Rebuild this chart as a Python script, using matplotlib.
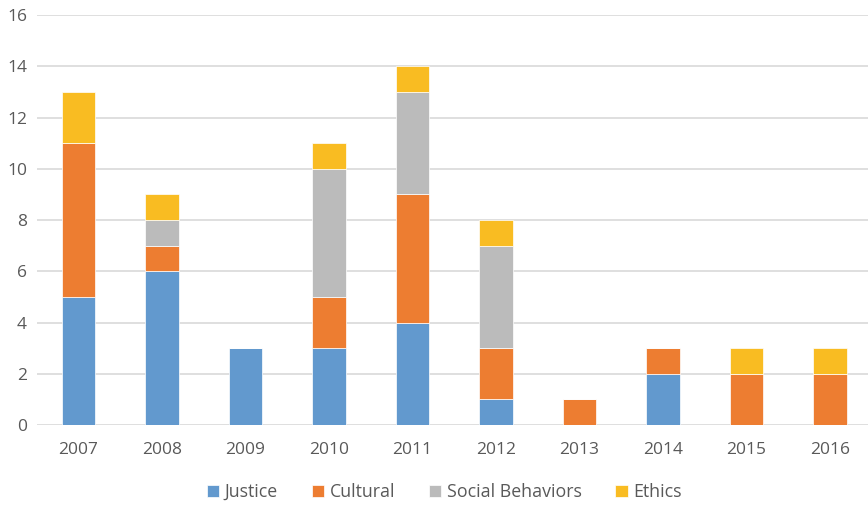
import matplotlib.pyplot as plt
import numpy as np

years = ['2007', '2008', '2009', '2010', '2011', '2012', '2013', '2014', '2015', '2016']
justice = [5, 6, 3, 3, 4, 1, 0, 2, 0, 0]
cultural = [6, 1, 0, 2, 5, 2, 1, 1, 2, 2]
social = [0, 1, 0, 5, 4, 4, 0, 0, 0, 0]
ethics = [2, 1, 0, 1, 1, 1, 0, 0, 1, 1]

series = [('Justice', justice, '#6299CE'),
          ('Cultural', cultural, '#ED7D31'),
          ('Social Behaviors', social, '#BBBBBB'),
          ('Ethics', ethics, '#F9BC22')]

plt.rcParams['font.family'] = ['Open Sans', 'DejaVu Sans']

fig = plt.figure(figsize=(8.68, 5.05), dpi=100)
ax = fig.add_axes([0.04234, 0.1584, 0.962, 0.8119])

x = np.arange(len(years))
bottom = np.zeros(len(years))
for name, vals, col in series:
    vals = np.array(vals)
    ax.bar(x, vals, width=0.4, bottom=bottom, color=col, label=name,
           edgecolor='white', linewidth=0.5, zorder=3)
    bottom += vals

ax.set_xlim(-0.5, 9.5)
ax.set_ylim(0, 16)
ax.set_yticks(range(0, 17, 2))
ax.set_xticks(x)
ax.set_xticklabels(years)
ax.grid(axis='y', color='#D9D9D9', linewidth=1.2, zorder=0)
for s in ax.spines.values():
    s.set_visible(False)
ax.tick_params(length=0, labelsize=12.5, labelcolor='#595959')
ax.tick_params(axis='x', pad=12)
ax.tick_params(axis='y', pad=7)

leg = ax.legend(loc='upper center', bbox_to_anchor=(0.488, -0.103), ncol=4,
                frameon=False, fontsize=12.8, handlelength=0.7, handleheight=0.7,
                handletextpad=0.3, columnspacing=1.9)
for t in leg.get_texts():
    t.set_color('#595959')

fig.savefig('out.png', dpi=100)
